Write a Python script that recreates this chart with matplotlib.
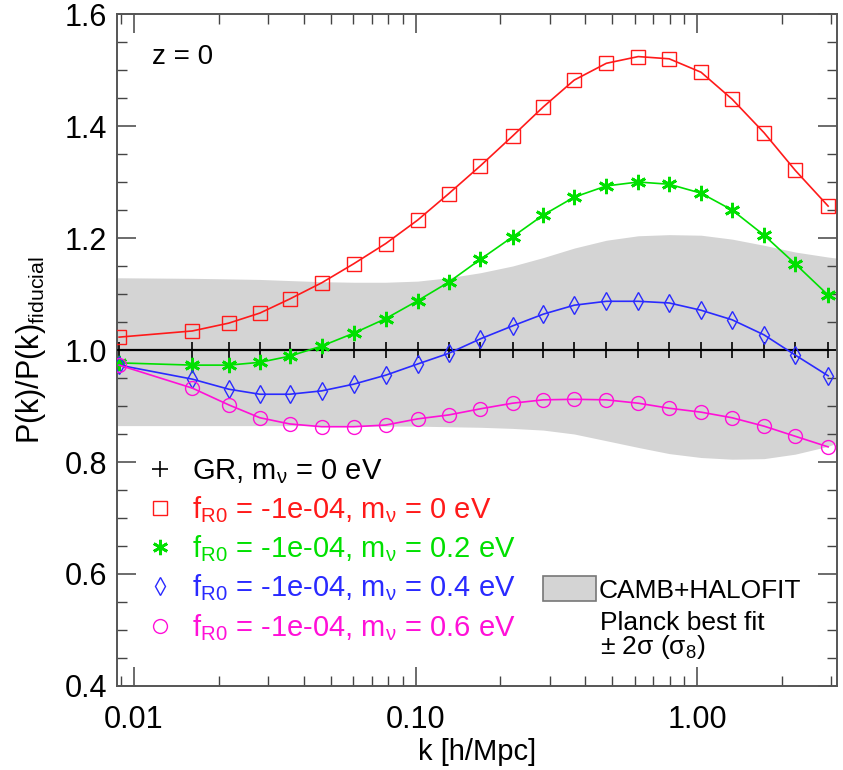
import matplotlib
matplotlib.use('Agg')
import matplotlib.pyplot as plt
from matplotlib.lines import Line2D
from matplotlib.patches import Patch
from matplotlib.ticker import FormatStrFormatter, MultipleLocator, NullFormatter

# Fonte estilo Helvetica
plt.rcParams['font.family'] = 'Liberation Sans'
plt.rcParams['mathtext.fontset'] = 'custom'
plt.rcParams['mathtext.rm'] = 'Liberation Sans'
plt.rcParams['mathtext.it'] = 'Liberation Sans:italic'
plt.rcParams['mathtext.default'] = 'regular'

# Dados
k = [0.00885, 0.0161, 0.0217, 0.0280, 0.0357, 0.0464, 0.0603, 0.0783, 0.1017, 0.131, 0.170,
     0.221, 0.284, 0.366, 0.476, 0.618, 0.796, 1.033, 1.331, 1.729, 2.23, 2.92]
gr = [1.0] * 22
fr_m00 = [1.023, 1.034, 1.048, 1.066, 1.091, 1.120, 1.154, 1.190, 1.232, 1.279, 1.329,
          1.382, 1.434, 1.482, 1.512, 1.524, 1.520, 1.496, 1.448, 1.388, 1.321, 1.257]
fr_m02 = [0.977, 0.973, 0.973, 0.978, 0.989, 1.007, 1.030, 1.056, 1.088, 1.121, 1.162,
          1.202, 1.241, 1.273, 1.293, 1.300, 1.296, 1.280, 1.250, 1.205, 1.154, 1.098]
fr_m04 = [0.973, 0.948, 0.930, 0.921, 0.921, 0.927, 0.939, 0.955, 0.975, 0.994, 1.020,
          1.043, 1.064, 1.080, 1.087, 1.087, 1.084, 1.071, 1.054, 1.027, 0.991, 0.954]
fr_m06 = [0.973, 0.932, 0.902, 0.879, 0.868, 0.863, 0.863, 0.866, 0.877, 0.884, 0.895,
          0.905, 0.911, 0.912, 0.911, 0.905, 0.896, 0.889, 0.879, 0.864, 0.846, 0.827]

# Faixa CAMB+HALOFIT (Planck +- 2 sigma)
band_k = [0.0087, 0.0161, 0.0217, 0.0280, 0.0357, 0.0464, 0.0603, 0.0783, 0.1017, 0.131, 0.170,
          0.221, 0.284, 0.366, 0.476, 0.618, 0.796, 1.033, 1.331, 1.729, 2.23, 2.92, 3.14]
band_hi = [1.129, 1.128, 1.127, 1.126, 1.124, 1.122, 1.121, 1.121, 1.123, 1.129, 1.138,
           1.150, 1.165, 1.182, 1.196, 1.204, 1.206, 1.205, 1.198, 1.187, 1.175, 1.166, 1.164]
band_lo = [0.865, 0.865, 0.865, 0.865, 0.865, 0.865, 0.864, 0.864, 0.864, 0.863, 0.862,
           0.860, 0.857, 0.850, 0.838, 0.826, 0.815, 0.808, 0.805, 0.806, 0.814, 0.828, 0.834]

labels = ['GR, m$_{\\nu}$ = 0 eV',
          'f$_{R0}$ = -1e-04, m$_{\\nu}$ = 0 eV',
          'f$_{R0}$ = -1e-04, m$_{\\nu}$ = 0.2 eV',
          'f$_{R0}$ = -1e-04, m$_{\\nu}$ = 0.4 eV',
          'f$_{R0}$ = -1e-04, m$_{\\nu}$ = 0.6 eV']
cores = ['black', '#ff1a1a', '#00e000', '#2a2aff', '#ff10d8']

fig = plt.figure(figsize=(8.43, 7.7), dpi=100)
ax = fig.add_axes([0.1388, 0.1091, 0.8541, 0.8727])

ax.fill_between(band_k, band_lo, band_hi, color='#d4d4d4', lw=0, zorder=1)
ax.plot(k, gr, color=cores[0], marker='+', ms=11, mew=1.2, lw=1.6, zorder=3)
ax.plot(k, fr_m00, color=cores[1], marker='s', mfc='none', ms=10, mew=1.0, lw=1.2, zorder=4)
ax.plot(k, fr_m02, color=cores[2], marker=(6, 2, 0), ms=11, mew=2.0, lw=1.2, zorder=4)
ax.plot(k, fr_m04, color=cores[3], marker='d', mfc='none', ms=9, mew=1.0, lw=1.2, zorder=4)
ax.plot(k, fr_m06, color=cores[4], marker='o', mfc='none', ms=10, mew=1.0, lw=1.2, zorder=4)

ax.set_xscale('log')
ax.set_xlim(0.0087, 3.14)
ax.set_ylim(0.4, 1.6)
ax.xaxis.set_major_formatter(FormatStrFormatter('%.2f'))
ax.xaxis.set_minor_formatter(NullFormatter())
ax.yaxis.set_major_locator(MultipleLocator(0.2))
ax.yaxis.set_minor_locator(MultipleLocator(0.05))
ax.yaxis.set_major_formatter(FormatStrFormatter('%.1f'))

ax.tick_params(which='both', direction='in', top=True, right=True, color='#444444', labelsize=22)
ax.tick_params(which='major', length=14, width=1.1)
ax.tick_params(which='minor', length=7, width=1.0)
ax.tick_params(axis='x', pad=14)
ax.tick_params(axis='y', pad=7)
for s in ax.spines.values():
    s.set_color('#555555')
    s.set_linewidth(1.4)

ax.set_xlabel('k [h/Mpc]', fontsize=21, labelpad=2)
ax.set_ylabel('P(k)/P(k)$_{fiducial}$', fontsize=22, labelpad=12)

ax.text(0.049, 0.936, 'z = 0', transform=ax.transAxes, fontsize=20, va='center')

# Legenda das curvas
handles = [Line2D([], [], color=cores[0], marker='+', ls='none', ms=11, mew=1.2),
           Line2D([], [], color=cores[1], marker='s', mfc='none', ls='none', ms=10),
           Line2D([], [], color=cores[2], marker=(6, 2, 0), ls='none', ms=11, mew=2.0),
           Line2D([], [], color=cores[3], marker='d', mfc='none', ls='none', ms=9),
           Line2D([], [], color=cores[4], marker='o', mfc='none', ls='none', ms=10)]
leg = ax.legend(handles, labels, loc='upper left', bbox_to_anchor=(0.0396, 0.341),
                frameon=False, fontsize=21, labelcolor=cores, handlelength=1.0,
                handletextpad=0.6, labelspacing=0.29, borderpad=0, borderaxespad=0)
ax.add_artist(leg)

# Legenda da faixa
leg2 = ax.legend([Patch(facecolor='#d4d4d4', edgecolor='#777777', lw=1.2)], ['CAMB+HALOFIT'],
                 loc='upper left', bbox_to_anchor=(0.592, 0.163), frameon=False, fontsize=19,
                 handlelength=2.0, handleheight=1.05, handletextpad=0.1,
                 borderpad=0, borderaxespad=0)
ax.text(0.671, 0.0833, 'Planck best fit', transform=ax.transAxes, fontsize=19, va='baseline')
ax.text(0.671, 0.0476, '\u00b1 2\u03c3 (\u03c3$_8$)', transform=ax.transAxes, fontsize=19, va='baseline')

fig.savefig('out.png', dpi=100)
print("ok")
